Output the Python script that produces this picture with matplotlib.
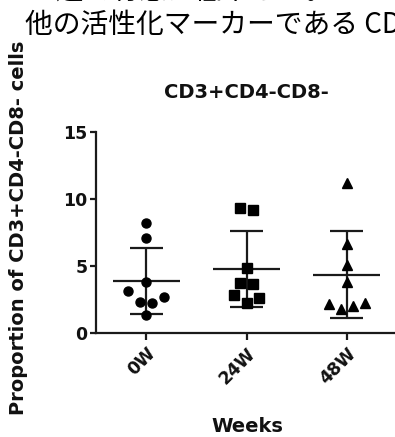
import matplotlib
matplotlib.use("Agg")
import matplotlib.pyplot as plt
import numpy as np

# =============================
# Data
# =============================

GROUPS = ["0W", "24W", "48W"]
VALUES_0W = [8.19, 7.09, 3.83, 3.13, 2.34, 2.26, 2.71, 1.34]
VALUES_24W = [9.30, 9.15, 4.87, 3.75, 3.63, 2.83, 2.59, 2.22]
VALUES_48W = [11.17, 6.64, 5.07, 3.83, 2.16, 1.80, 2.00, 2.22]
Y_TICKS = [0, 5, 10, 15]

TITLE = "CD3+CD4-CD8-"
X_LABEL = "Weeks"
Y_LABEL = "Proportion of CD3+CD4-CD8- cells"
JP_LINE_1 = "16週で有意に低下した。"
JP_LINE_2 = "他の活性化マーカーである CD69"

# horizontal scatter of the points inside each column (layout only)
OFFSETS = [
    [0, 0, 0, -0.18, -0.065, 0.055, 0.18, 0],
    [-0.06, 0.06, 0, -0.06, 0.06, -0.12, 0.12, 0],
    [0, 0, 0, 0, -0.18, -0.06, 0.06, 0.18],
]
MARKERS = [("o", 6.5), ("s", 7.0), ("^", 7.0)]


def main() -> None:
    fig = plt.figure(figsize=(3.95, 4.37), dpi=100)
    ax = fig.add_axes([96 / 395, 104 / 437, 301 / 395, 201 / 437])

    series = [VALUES_0W, VALUES_24W, VALUES_48W]
    for i, (vals, offs, (mk, ms)) in enumerate(zip(series, OFFSETS, MARKERS)):
        vals = np.asarray(vals)
        mean = vals.mean()
        sd = vals.std(ddof=1)
        ax.vlines(i, mean - sd, mean + sd, color="#1a1a1a", lw=1.6, zorder=2)
        ax.hlines([mean - sd, mean + sd], i - 0.165, i + 0.165, color="#1a1a1a", lw=1.6, zorder=2)
        ax.hlines(mean, i - 0.335, i + 0.335, color="#1a1a1a", lw=1.6, zorder=2)
        ax.plot(i + np.asarray(offs), vals, ls="none", marker=mk, ms=ms,
                color="black", zorder=3)

    ax.set_xlim(-0.5, 2.5)
    ax.set_ylim(0, 15)
    ax.set_yticks(Y_TICKS)
    ax.set_xticks(range(len(GROUPS)))
    ax.set_xticklabels(GROUPS, rotation=45, ha="right", rotation_mode="anchor")
    for lab in ax.get_xticklabels() + ax.get_yticklabels():
        lab.set_fontweight("bold")
        lab.set_fontsize(12.5)
        lab.set_color("#111111")

    for side in ("top", "right"):
        ax.spines[side].set_visible(False)
    for side in ("left", "bottom"):
        ax.spines[side].set_linewidth(1.6)
        ax.spines[side].set_color("#1a1a1a")
    ax.tick_params(axis="y", length=4, width=1.6, pad=2, color="#1a1a1a")
    ax.tick_params(axis="x", length=5, width=1.6, pad=3, color="#1a1a1a")

    fig.text(246 / 395, 1 - 92 / 437, TITLE, ha="center", va="center",
             fontsize=14, fontweight="bold", color="#111111")
    fig.text(247 / 395, 1 - 427 / 437, X_LABEL, ha="center", va="center",
             fontsize=14, fontweight="bold", color="#111111")
    fig.text(19 / 395, 1 - 228 / 437, Y_LABEL, ha="center", va="center",
             rotation=90, fontsize=14, fontweight="bold", color="#111111")

    # document text above the chart, cut off by the crop like in the source
    jp = ["Noto Sans CJK JP", "DejaVu Sans"]
    fig.text(25 / 395, 1 - 25 / 437, JP_LINE_2, ha="left", va="center",
             fontsize=20, family=jp, color="black")
    fig.text(25 / 395, 1 + 8 / 437, JP_LINE_1, ha="left", va="center",
             fontsize=20, family=jp, color="black")

    fig.savefig("out.png", dpi=100, facecolor="white")
    plt.close(fig)


if __name__ == "__main__":
    main()
